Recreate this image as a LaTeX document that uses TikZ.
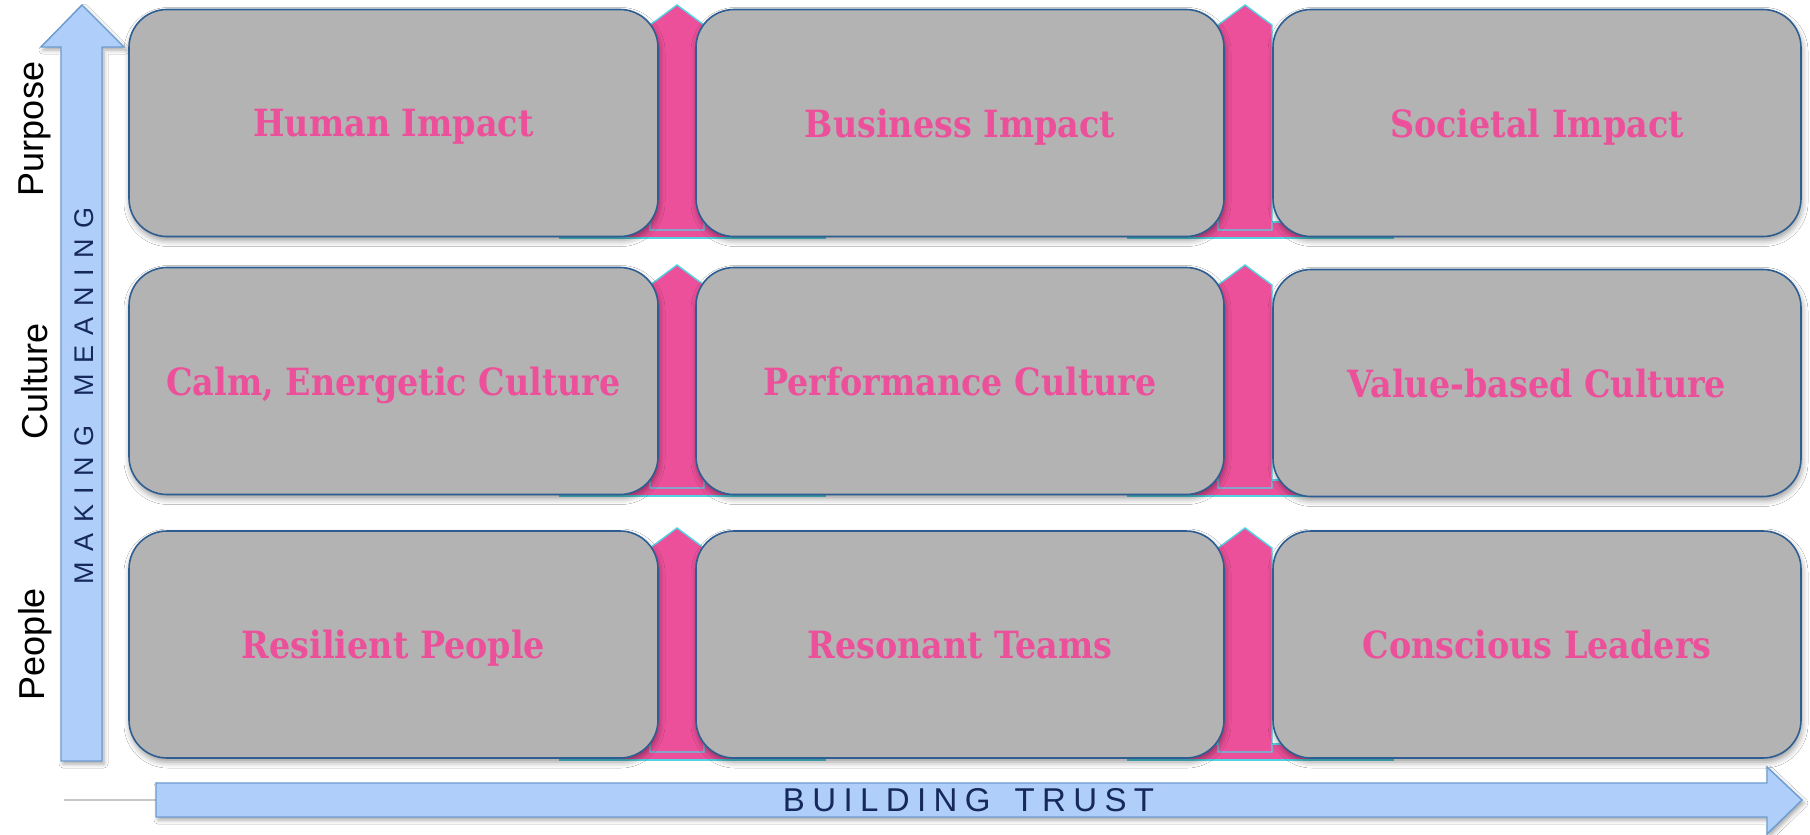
\documentclass[tikz,border=0pt]{standalone}
\usepackage{fontspec}
\setmainfont{Liberation Sans}
\newfontfamily\boxfont[FakeStretch=0.89]{DejaVu Serif}
\usetikzlibrary{shadows.blur}
\definecolor{boxgray}{RGB}{179,179,179}
\definecolor{boxline}{RGB}{46,94,145}
\definecolor{pinkfill}{RGB}{236,80,154}
\definecolor{cyanline}{RGB}{80,210,225}
\definecolor{arrowblue}{RGB}{175,207,250}
\definecolor{arrowline}{RGB}{108,157,210}
\definecolor{navy}{RGB}{22,40,92}
\makeatletter
\newcommand\trackit[2]{\def\trk@k{#1}\trk@go#2\@nil}
\def\trk@go#1{\ifx#1\@nil\kern-\trk@k\else#1\kern\trk@k\expandafter\trk@go\fi}
\makeatother
\begin{document}
\begin{tikzpicture}[x=1pt,y=-1pt,
  box/.style={draw=boxline, line width=1.6pt, fill=boxgray, rounded corners=38pt,
    minimum width=528pt, minimum height=227pt, inner sep=0pt, text depth=0pt,
    text=pinkfill, font=\boxfont\bfseries\fontsize{37.5}{44}\selectfont,
    blur shadow={shadow xshift=1pt, shadow yshift=-4pt, shadow blur radius=6pt, shadow opacity=40}},
  bluearrow/.style={fill=arrowblue, draw=arrowline, line width=1.4pt,
    blur shadow={shadow xshift=2pt, shadow yshift=-3pt, shadow blur radius=4pt, shadow opacity=35}},
  sidelabel/.style={rotate=90, font=\fontsize{36}{40}\selectfont, text=black, inner sep=0pt},
  axislabel/.style={text=navy, inner sep=0pt}
]
\useasboundingbox[fill=white] (0,0) rectangle (1810,835);

% pink arrows behind boxes
\foreach \T/\B in {8/236, 268/494, 531/758}{
  \foreach \cx in {677,1245}{
    \filldraw[pinkfill, draw=cyanline, line width=1.4pt] ({\cx-117},{\B-14}) rectangle ({\cx+148},{\B+2});
    \filldraw[pinkfill, draw=cyanline, line width=1.4pt] ({\cx-27},{\B-6}) -- ({\cx-27},{\T+17}) -- (\cx,{\T-3}) -- ({\cx+27},{\T+17}) -- ({\cx+27},{\B-6}) -- cycle;
  }
}

% boxes
\node[box, minimum width=529pt] (b11) at (393.5,123) {Human Impact};
\node[box] (b12) at (960,123) {Business Impact};
\node[box] (b13) at (1537,123) {Societal Impact};
\node[box, minimum width=529pt] (b21) at (393.5,381) {Calm, Energetic Culture};
\node[box] (b22) at (960,381) {Performance Culture};
\node[box] (b23) at (1537,383) {Value-based Culture};
\node[box, minimum width=529pt] (b31) at (393.5,644.5) {Resilient People};
\node[box] (b32) at (960,644.5) {Resonant Teams};
\node[box] (b33) at (1537,644.5) {Conscious Leaders};

% vertical arrow
\draw[bluearrow] (61,761) -- (61,47) -- (41,47) -- (82,5) -- (124,47) -- (102,47) -- (102,761) -- cycle;
\node[axislabel, rotate=90, font=\fontsize{27}{30}\selectfont] (mm) at (84,396) {\trackit{10.5pt}{MAKING~MEANING}};

% horizontal arrow
\coordinate (lineStart) at (64,800);
\coordinate (lineEnd) at (156,800);
\draw[black!22, line width=1.2pt] (lineStart) -- (lineEnd);
\draw[bluearrow] (156,783) -- (1767,783) -- (1767,767) -- (1802,800) -- (1767,834) -- (1767,817) -- (156,817) -- cycle;
\node[axislabel, font=\fontsize{33}{36}\selectfont] (bt) at (968.5,800) {\trackit{7.4pt}{BUILDING~TRUST}};

% side labels
\node[sidelabel] (purpose) at (35,129) {Purpose};
\node[sidelabel] (culture) at (35,381) {Culture};
\node[sidelabel] (people) at (35,644) {People};
\end{tikzpicture}
\end{document}
